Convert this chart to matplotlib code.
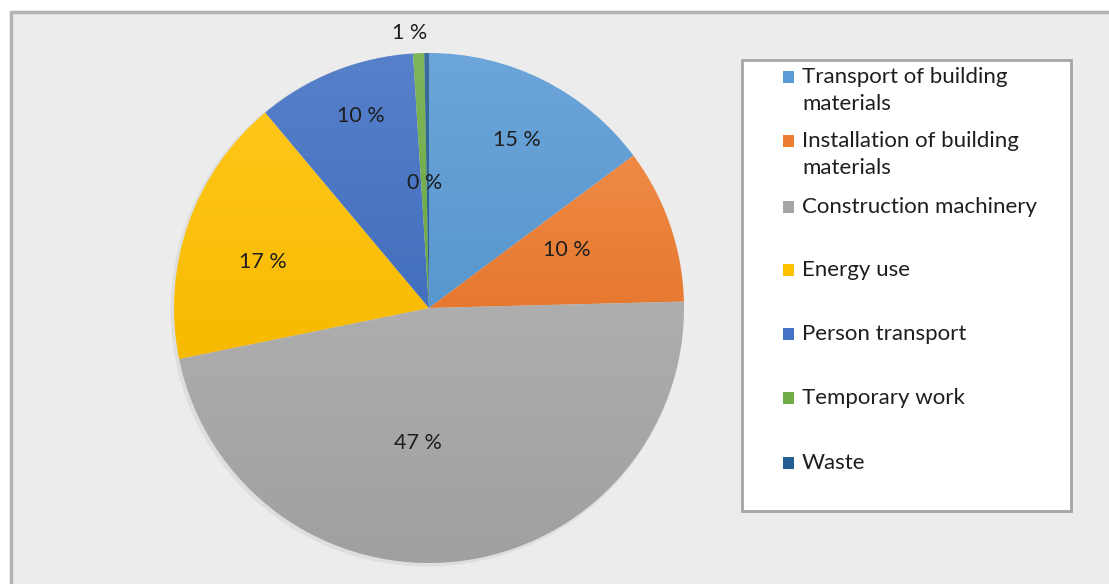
import numpy as np
import matplotlib
matplotlib.use("Agg")
import matplotlib.pyplot as plt
from matplotlib.patches import Rectangle, Circle
from matplotlib.colors import to_rgb

# ---- data ----
categories = ["Transport of building\nmaterials",
              "Installation of building\nmaterials",
              "Construction machinery",
              "Energy use",
              "Person transport",
              "Temporary work",
              "Waste"]
values = [14.8, 9.8, 47.2, 17.1, 10.1, 0.7, 0.3]
colors = ["#5B9BD5", "#ED7D31", "#A5A5A5", "#FFC000", "#4472C4", "#70AD47", "#255E91"]

# label placement style (radius fraction, angle offset in degrees)
label_r = [0.745, 0.585, 0.53, 0.675, 0.80, 1.083, 0.49]
label_dang = [-1.0, 3.7, -11.0, 3.8, -2.3, 1.7, 1.5]

W, H = 1109, 584
FONT = ["Lato", "DejaVu Sans"]
plt.rcParams["font.family"] = FONT

fig = plt.figure(figsize=(W / 100, H / 100), dpi=100)
fig.patch.set_facecolor("white")
ax = fig.add_axes([0, 0, 1, 1])
ax.set_xlim(0, W)
ax.set_ylim(0, H)
ax.axis("off")


def py(y):
    return H - y


# outer chart frame
ax.add_patch(Rectangle((10.5, -20), W + 50, py(12) + 20, facecolor="#ececec",
                       edgecolor="#b3b3b3", linewidth=2.5, zorder=0))

cx, cy, R = 429, py(308), 255

# subtle shadow
ax.add_patch(Circle((cx - 2, cy - 2), R + 1.5, facecolor="#d6d6d6", edgecolor="none",
                    alpha=0.6, zorder=1))

wedges, texts, autotexts = ax.pie(
    values, colors=colors, startangle=90, counterclock=False,
    center=(cx, cy), radius=R, frame=True,
    autopct=lambda p: f"{p:.0f} %", pctdistance=0.6,
    wedgeprops=dict(linewidth=0, zorder=2),
    textprops=dict(fontsize=15.5, color="#1e1e1e"))
ax.set_xlim(0, W)
ax.set_ylim(0, H)
ax.axis("off")


def mix(c, t, f):
    c = np.array(to_rgb(c))
    t = np.array(to_rgb(t))
    return c * (1 - f) + t * f


# gradient fill for each wedge
for w, c in zip(wedges, colors):
    ext = w.get_path().get_extents()
    top = mix(c, "white", 0.10)
    bot = mix(c, "black", 0.03)
    n = 64
    t = np.linspace(0, 1, n)[:, None]
    grad = top[None, :] * (1 - t) + bot[None, :] * t
    img = np.repeat(grad[:, None, :], 2, axis=1)
    w.set_facecolor("none")
    im = ax.imshow(img, extent=(ext.x0, ext.x1, ext.y0, ext.y1), origin="upper",
                   aspect="auto", zorder=2, interpolation="bilinear")
    im.set_clip_path(w)
ax.set_xlim(0, W)
ax.set_ylim(0, H)

# reposition percentage labels
for w, at, rf, da in zip(wedges, autotexts, label_r, label_dang):
    mid = np.deg2rad((w.theta1 + w.theta2) / 2 + da)
    at.set_position((cx + rf * R * np.cos(mid), cy + rf * R * np.sin(mid)))
    at.set_zorder(5)
for t in texts:
    t.set_visible(False)

# legend (drawn manually to mirror the original layout)
lx0, ly0, lx1, ly1 = 742, 60, 1071, 511
ax.add_patch(Rectangle((lx0 + 2, py(ly1) - 2), lx1 - lx0, ly1 - ly0, facecolor="#c8c8c8",
                       edgecolor="none", zorder=6))
ax.add_patch(Rectangle((lx0, py(ly1)), lx1 - lx0, ly1 - ly0, facecolor="white",
                       edgecolor="#a6a6a6", linewidth=2, zorder=7))
row_y = [77, 141, 207, 270, 334, 398, 463]
for lab, c, yy in zip(categories, colors, row_y):
    ax.add_patch(Rectangle((783, py(yy) - 6), 11, 12, facecolor=c, edgecolor="none", zorder=8))
    ax.text(802, py(yy) + 10, lab, fontsize=16, color="#1e1e1e", va="top", ha="left",
            linespacing=1.45, zorder=8)

fig.savefig("out.png", dpi=100, facecolor="white")
